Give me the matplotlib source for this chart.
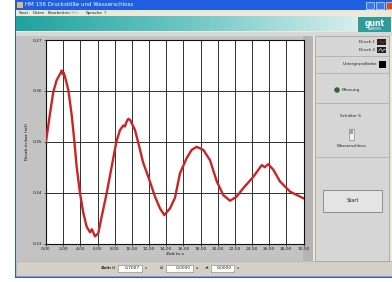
import numpy as np
import matplotlib.pyplot as plt
from matplotlib.patches import Rectangle, Circle
from matplotlib.colors import LinearSegmentedColormap

# pressure trace
zeit = [0.0, 0.47, 0.85, 1.24, 1.63, 1.83, 1.95, 2.05, 2.21, 2.6, 2.99, 3.3,
        3.57, 3.96, 4.35, 4.74, 5.13, 5.35, 5.5, 5.71, 6.09, 6.49, 7.07, 7.65,
        8.2, 8.62, 9.0, 9.2, 9.4, 9.59, 9.8, 10.37, 10.9, 11.3, 11.92, 12.7,
        13.28, 13.78, 14.45, 15.03, 15.61, 16.39, 16.97, 17.55, 18.33, 19.1,
        19.9, 20.66, 21.44, 22.2, 22.99, 24.15, 25.13, 25.5, 25.9, 26.48,
        27.26, 28.43, 29.98]
druck = [0.3500, 0.3556, 0.3598, 0.3621, 0.3633, 0.3640, 0.3633, 0.3636,
         0.3628, 0.3602, 0.3553, 0.3502, 0.3451, 0.3399, 0.3360, 0.3333,
         0.3322, 0.3328, 0.3322, 0.3314, 0.3320, 0.3353, 0.3399, 0.3451,
         0.3500, 0.3523, 0.3532, 0.3530, 0.3540, 0.3545, 0.3543, 0.3523,
         0.3488, 0.3460, 0.3431, 0.3392, 0.3369, 0.3356, 0.3369, 0.3390,
         0.3438, 0.3468, 0.3484, 0.3490, 0.3484, 0.3464, 0.3422, 0.3395,
         0.3384, 0.3392, 0.3409, 0.3431, 0.3454, 0.3450, 0.3456, 0.3445,
         0.3422, 0.3402, 0.3389]

xticks = np.arange(0, 31, 2)
xticklabels = ["%d,00" % v for v in xticks]
yticks = [0.33, 0.34, 0.35, 0.36, 0.37]
yticklabels = ["0,33", "0,34", "0,35", "0,36", "0,37"]

W, H = 392, 282
fig = plt.figure(figsize=(W / 100, H / 100), dpi=100)
fig.patch.set_facecolor("white")

# background "window" drawn in pixel coordinates
bg = fig.add_axes([0, 0, 1, 1])
bg.axis("off")


def box(x0, y0, x1, y1, fc, ec="none", lw=0, z=1):
    bg.add_patch(Rectangle((x0, y0), x1 - x0, y1 - y0, fc=fc, ec=ec, lw=lw, zorder=z))


def txt(x, y, s, size=3.4, ha="left", color="#202020", **kw):
    bg.text(x, y, s, fontsize=size, ha=ha, va="center", color=color, zorder=5, **kw)


# window frame
box(15, 0, 392, 278, "#2a5bd7")
box(16.5, 10, 392, 276, "#ece9d8")
# title bar
box(15, 0, 392, 10, "#1f5fdf")
box(17, 2, 23, 8, "#d8c070", z=2)
txt(25, 5, "HM 156 Druckstöße und Wasserschloss", size=4, color="white")
box(366, 1.5, 374, 8.5, "#3a78f0", ec="white", lw=0.4, z=2)
box(376, 1.5, 384, 8.5, "#3a78f0", ec="white", lw=0.4, z=2)
box(386, 1.5, 392, 8.5, "#d8482a", ec="white", lw=0.4, z=2)
# menu bar
txt(19, 13, "Start", size=3)
txt(33, 13, "Daten", size=3)
txt(48, 13, "Bearbeiten", size=3)
txt(70, 13, "Hilfe", size=3, color="#a0a0a0")
txt(86, 13, "Sprache", size=3)
txt(104, 13, "?", size=3)
# teal banner
grad = LinearSegmentedColormap.from_list("g", ["#1ea39e", "#6cc6c3", "#d6eeee"])
bg.imshow(np.linspace(0, 1, 256)[None, :], extent=(16.5, 356, 31.5, 16.5),
          cmap=grad, aspect="auto", zorder=2)
box(358, 17, 391, 31.5, "#2f9c9a", z=2)
txt(374.5, 23, "gunt", size=5.5, ha="center", color="white", weight="bold")
txt(374.5, 29, "HAMBURG", size=2, ha="center", color="white")
box(16.5, 31.5, 392, 36, "#d8d8d8", z=2)

# chart panel and status strip
box(16.5, 36, 313, 261, "#c3c3c3", z=2)
box(303.5, 36, 313, 261, "#b4b4b4", z=2)
box(16.5, 261, 392, 276, "#d4d0c8", ec="#a0a0a0", lw=0.4, z=2)
txt(112, 268, "Zeit:", size=3.2, ha="right", weight="bold")
for lab, x0, x1, val in [("t1", 118, 142, "0,7007"), ("t2", 166, 193, "0,0000"),
                         ("dt", 211, 234, "0,0000")]:
    txt(x0 - 2, 268, lab, size=3.2, ha="right")
    box(x0, 264.5, x1, 271.5, "white", ec="#808080", lw=0.4, z=3)
    txt(x1 - 2, 268, val, size=3.2, ha="right")
    txt(x1 + 3, 268, "s", size=3.2)

# right control panel
box(315, 36, 389, 261, "#d6d6d6", ec="#9a9a9a", lw=0.5, z=2)
for ys in [56, 73, 103, 157]:
    bg.plot([316, 388], [ys, ys], color="#a8a8a8", lw=0.5, zorder=3)
for lab, yc, lc in [("Druck 1", 42, "#c03030"), ("Druck 2", 50, "white")]:
    txt(375, yc, lab, size=3, ha="right")
    box(377.5, yc - 3, 386.5, yc + 3, "#202020", z=3)
    bg.plot([378.5, 380.5, 382.5, 384.5, 385.5], [yc + 1, yc - 1.5, yc + 1.5, yc - 1, yc],
            color=lc, lw=0.4, zorder=4)
txt(377, 64, "Untergrundfarbe", size=3, ha="right")
box(379.5, 60.5, 386.5, 67.5, "black", z=3)
bg.add_patch(Circle((337, 90), 2.4, fc="#2e6a2e", ec="#1a3a1a", lw=0.3, zorder=4))
txt(342, 90.5, "Messung", size=3)
txt(350, 116, "Schalter S", size=3, ha="center")
box(349.5, 129, 354, 140, "#f0f0f0", ec="#707070", lw=0.4, z=3)
box(350.5, 130, 353, 134, "#a0a0a0", z=4)
txt(352, 146, "Wasserschloss", size=3, ha="center")
box(323, 190, 382, 212, "#e4e4e4", ec="#808080", lw=0.6, z=3)
txt(352.5, 201, "Start", size=3.6, ha="center")

bg.set_xlim(0, W)
bg.set_ylim(H, 0)

# the pressure chart itself
x0, x1, y0, y1 = 46, 303.5, 40, 243.5
ax = fig.add_axes([x0 / W, 1 - y1 / H, (x1 - x0) / W, (y1 - y0) / H])
ax.set_facecolor("white")
ax.plot(zeit, druck, color="#cc2424", lw=1.7, solid_joinstyle="round", zorder=3)
ax.set_xlim(0, 30)
ax.set_ylim(0.33, 0.37)
ax.set_xticks(xticks)
ax.set_xticklabels(xticklabels)
ax.set_yticks(yticks)
ax.set_yticklabels(yticklabels)
ax.grid(True, color="#303030", lw=0.7)
ax.tick_params(labelsize=3.2, length=1.5, width=0.5, pad=1, colors="#202020")
for s in ax.spines.values():
    s.set_linewidth(0.8)
    s.set_color("#101010")
ax.set_xlabel("Zeit in s", fontsize=3.2, labelpad=1)
ax.set_ylabel("Druck in bar (rel)", fontsize=3.2, labelpad=3)

fig.savefig("out.png", dpi=100)
